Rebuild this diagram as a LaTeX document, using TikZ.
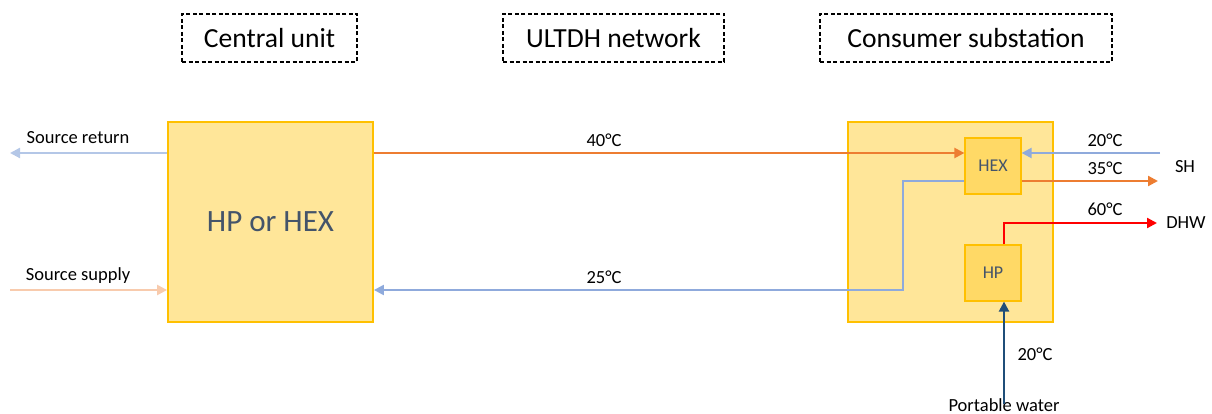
\documentclass[tikz,border=0pt]{standalone}
\usepackage{fontspec}
\setmainfont{Carlito}
\usetikzlibrary{shapes,arrows,arrows.meta,positioning}

\definecolor{boxfill}{HTML}{FFE699}
\definecolor{unitfill}{HTML}{FFD966}
\definecolor{boxline}{HTML}{FFC000}
\definecolor{boxtext}{HTML}{44546A}
\definecolor{warm}{HTML}{ED7D31}
\definecolor{cool}{HTML}{8FAADC}
\definecolor{srcret}{HTML}{B4C7E7}
\definecolor{srcsup}{HTML}{F8CBAD}
\definecolor{hot}{HTML}{FF0000}
\definecolor{navy}{HTML}{1F4E79}

\tikzstyle{block} = [draw=boxline, fill=boxfill, rectangle, line width=1.8pt,
    minimum width=205pt, minimum height=200pt, inner sep=0pt, text=boxtext]
\tikzstyle{unit} = [draw=boxline, fill=unitfill, rectangle, line width=1.2pt,
    minimum width=56pt, minimum height=56pt, inner sep=0pt, text=boxtext,
    font=\fontsize{18}{21}\selectfont]
\tikzstyle{heading} = [draw, dash pattern=on 4pt off 2.5pt, line width=1.2pt,
    minimum height=48pt, inner sep=0pt, font=\fontsize{27.6}{32}\selectfont]
\tikzstyle{tag} = [font=\fontsize{18.5}{22}\selectfont, inner sep=0pt, text=black]
\tikzstyle{pipe} = [line width=2.2pt, -{Triangle[length=10pt,width=10pt]}]
\tikzstyle{input} = [coordinate]

\begin{document}
\begin{tikzpicture}[x=1pt, y=-1pt]
\useasboundingbox (0,0) rectangle (1212,414);

\node [heading, minimum width=175pt] (headcu) at (269.5,38) {Central unit};
\node [heading, minimum width=221pt] (headnet) at (613.5,38) {ULTDH network};
\node [heading, minimum width=292pt] (headcs) at (966,38) {Consumer substation};

\node [block, font=\fontsize{31}{37}\selectfont] (central) at (270.5,222) {HP or HEX};
\node [block] (consumer) at (950.5,222) {};
\node [unit] (hex) at (993,166) {HEX};
\node [unit] (hp) at (993,273) {HP};

% source side
\node [input] (ret) at (10,153) {};
\node [input] (sup) at (10,290) {};
\node [tag] (lret) at (78,138) {Source return};
\node [tag] (lsup) at (78,276) {Source supply};
\draw [pipe, srcret] (central.west |- ret) -- (ret);
\draw [pipe, srcsup] (sup) -- (central.west |- sup);

% network
\node [input, name=hexin] at ([yshift=13pt]hex.west) {};
\node [input, name=hexout] at ([yshift=-15pt]hex.west) {};
\node [input, name=bend] at (903,290) {};
\node [tag] (t40) at (604,140) {40°C};
\node [tag] (t25) at (604,277) {25°C};
\draw [pipe, warm] (central.east |- hexin) -- (hexin);
\draw [pipe, cool] (hexout) -| (bend) -- (central.east |- bend);

% consumer side
\node [input] (shin) at (1160,153) {};
\node [input] (shout) at (1158,181) {};
\node [input] (dhw) at (1157,223) {};
\draw [pipe, cool] (shin) -- (hex.east |- shin);
\draw [pipe, warm] (hex.east |- shout) -- (shout);
\draw [pipe, hot] ([xshift=11pt]hp.north) |- (dhw);
\node [tag] (tshin) at (1105,140) {20°C};
\node [tag] (tshout) at (1105,168) {35°C};
\node [tag] (tdhw) at (1105,209) {60°C};
\node [tag] (sh) at (1185,167) {SH};
\node [tag] (ldhw) at (1186,223) {DHW};

\node [tag] (water) at (1004,405) {Portable water};
\node [tag] (twater) at (1035,354) {20°C};
\draw [pipe, navy] ([yshift=-6pt]water.north) -- (water.north |- hp.south);

\end{tikzpicture}
\end{document}
